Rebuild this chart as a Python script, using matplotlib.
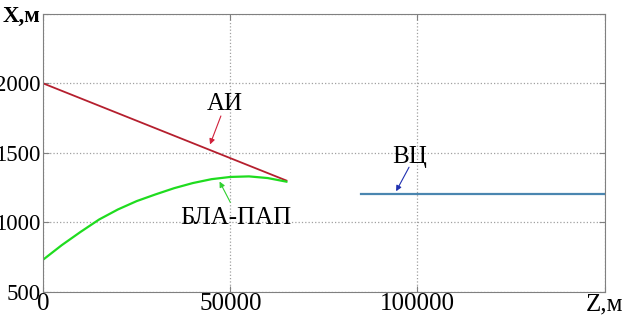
import matplotlib.pyplot as plt

plt.rcParams['font.family'] = ['Liberation Serif', 'DejaVu Serif']

# АИ
z_ai = [0, 65000]
x_ai = [2000, 1300]

# БЛА-ПАП
z_bla = [0, 5000, 10000, 15000, 20000, 25000, 30000, 35000,
         40000, 45000, 50000, 55000, 60000, 65000]
x_bla = [730, 835, 930, 1020, 1092, 1152, 1200, 1245,
         1282, 1310, 1326, 1330, 1318, 1292]

# ВЦ
z_vc = [85000, 150000]
x_vc = [1205, 1205]

xticks = [0, 50000, 100000, 150000]
xlabels = ['0', '50000', '100000', 'Z,м']
yticks = [500, 1000, 1500, 2000, 2500]
ylabels = ['500', '1000', '1500', '2000', 'X,м']

fig = plt.figure(figsize=(6.24, 3.23), dpi=100)
ax = fig.add_axes([0.069, 0.097, 0.9, 0.86])

ax.plot(z_ai, x_ai, color='#b51f2e', lw=1.3)
ax.plot(z_bla, x_bla, color='#1fdc1f', lw=1.6)
ax.plot(z_vc, x_vc, color='#4a86b0', lw=1.6)

ax.set_xlim(0, 150000)
ax.set_ylim(500, 2500)
ax.set_xticks(xticks)
ax.set_xticklabels(xlabels)
ax.set_yticks(yticks)
ax.set_yticklabels(ylabels)
ax.tick_params(direction='in', length=4, top=True, right=True,
               color='#808080')
ax.tick_params(axis='x', labelsize=18, pad=1)
ax.tick_params(axis='y', labelsize=16.5, pad=2)
ax.get_yticklabels()[-1].set_fontweight('bold')
for s in ax.spines.values():
    s.set_color('#808080')
ax.grid(True, linestyle=':', color='#a0a0a0', lw=0.9)

# подписи со стрелками
ax.text(48660, 1850, 'АИ', fontsize=18, ha='center', va='center')
ax.annotate('', xy=(44600, 1560), xytext=(47500, 1765),
            arrowprops=dict(arrowstyle='-|>', color='#d0203a', lw=0.8,
                            mutation_scale=8, shrinkA=0, shrinkB=0))

ax.text(51550, 1030, 'БЛА-ПАП', fontsize=18, ha='center', va='center')
ax.annotate('', xy=(47140, 1293), xytext=(50000, 1144),
            arrowprops=dict(arrowstyle='-|>', color='#30d030', lw=0.8,
                            mutation_scale=8, shrinkA=0, shrinkB=0))

ax.text(97800, 1473, 'ВЦ', fontsize=18, ha='center', va='center')
ax.annotate('', xy=(94300, 1223), xytext=(97750, 1396),
            arrowprops=dict(arrowstyle='-|>', color='#2030b0', lw=0.8,
                            mutation_scale=8, shrinkA=0, shrinkB=0))

fig.savefig('out.png', dpi=100)
